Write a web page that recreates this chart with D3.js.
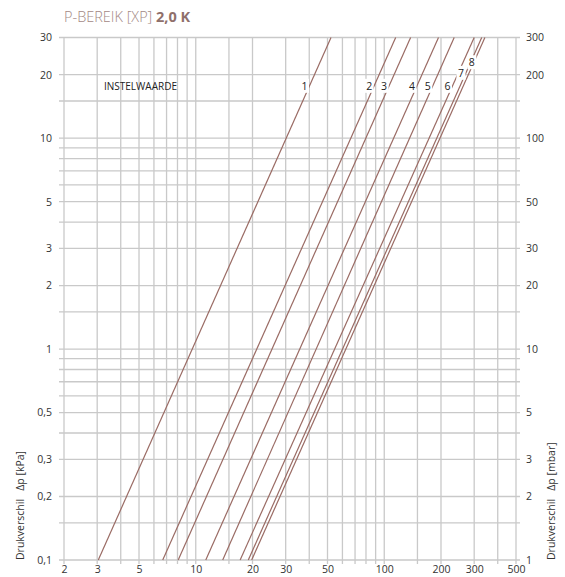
<!DOCTYPE html>
<html><head><meta charset="utf-8">
<script src="https://cdn.jsdelivr.net/npm/d3@7"></script>
<style>
html,body{margin:0;padding:0;background:#fff;}
svg{display:block;font-family:"Open Sans",sans-serif;}
</style></head>
<body>
<svg id="chart" width="565" height="577"></svg>
<script>
// Data
const settings = ["1","2","3","4","5","6","7","8"];
const flowAtMin = [3.04, 6.68, 8.07, 11.3, 13.9, 17.2, 19.0, 19.8];   // flow at 0,1 kPa
const flowAtMax = [52.2, 115, 138, 194, 235, 300, 329, 342];          // flow at 30 kPa
const dpMin = 0.1, dpMax = 30;
const labelDp = [17.7, 17.7, 17.7, 17.7, 17.7, 17.7, 20.4, 22.9];
const xTicks = [2,3,5,10,20,30,50,100,200,300,500];
const xGrid = [2,3,4,5,6,7,8,9,10,15,20,30,40,50,60,70,80,90,100,150,200,300,400,500];
const yTicks = [0.1,0.2,0.3,0.5,1,2,3,5,10,20,30];
const yGrid = [0.1,0.15,0.2,0.3,0.4,0.5,0.6,0.7,0.8,0.9,1,1.5,2,3,4,5,6,7,8,9,10,15,20,30];
const yRightTicks = [1,2,3,5,10,20,30,50,100,200,300];

const svg = d3.select("#chart");
const L = 64, R = 516, T = 37.5, B = 560;
const x = d3.scaleLog().domain([2,500]).range([L,R]);
const y = d3.scaleLog().domain([0.1,30]).range([B,T]);
const yR = d3.scaleLog().domain([1,300]).range([B,T]);
const fmt = d => String(d).replace(".", ",");
const gridColor = "#c9c9c9";

// Grid
svg.append("g").selectAll("line").data(yGrid).join("line")
  .attr("x1", L-5).attr("x2", R+4)
  .attr("y1", d=>y(d)).attr("y2", d=>y(d))
  .attr("stroke", gridColor).attr("stroke-width", 1.3);
svg.append("g").selectAll("line").data(xGrid).join("line")
  .attr("x1", d=>x(d)).attr("x2", d=>x(d))
  .attr("y1", T).attr("y2", B+4)
  .attr("stroke", gridColor).attr("stroke-width", 1.3);

// Axes (labels only)
const axisFont = 10.5, txtColor = "#333";
const gx = svg.append("g").attr("transform", `translate(0,${B})`)
  .call(d3.axisBottom(x).tickValues(xTicks).tickFormat(d=>d).tickSize(0).tickPadding(5.5));
const gl = svg.append("g").attr("transform", `translate(${L-12},0)`)
  .call(d3.axisLeft(y).tickValues(yTicks).tickFormat(fmt).tickSize(0).tickPadding(0));
const gr = svg.append("g").attr("transform", `translate(${R+10},0)`)
  .call(d3.axisRight(yR).tickValues(yRightTicks).tickFormat(d=>d).tickSize(0).tickPadding(0));
[gx,gl,gr].forEach(g=>{
  g.select(".domain").remove();
  g.selectAll("text").attr("font-size", axisFont).attr("fill", txtColor)
    .attr("font-family", "'Open Sans',sans-serif");
});

// Lines
const lineGen = d3.line().x(d=>x(d[0])).y(d=>y(d[1]));
const lineColor = "#9a6b64";
svg.append("g").selectAll("path").data(settings).join("path")
  .attr("d", (s,i)=>lineGen([[flowAtMin[i], dpMin],[flowAtMax[i], dpMax]]))
  .attr("fill","none").attr("stroke", lineColor).attr("stroke-width", 1.2);

// Setting labels with white knockout
const flowAt = (i, dp) => Math.exp(Math.log(flowAtMin[i]) + (Math.log(dp/dpMin)/Math.log(dpMax/dpMin))*Math.log(flowAtMax[i]/flowAtMin[i]));
const lg = svg.append("g");
settings.forEach((s,i)=>{
  const off = i === 7 ? 2 : 5;
  const cx = x(flowAt(i, labelDp[i])) - off, cy = y(labelDp[i]);
  lg.append("rect").attr("x", cx-4.5).attr("y", cy-7).attr("width", 9).attr("height", 14).attr("fill","#fff");
  lg.append("text").attr("x", cx).attr("y", cy).attr("dy","0.35em")
    .attr("text-anchor","middle").attr("font-size", 10.5).attr("fill", "#222").text(s);
});
svg.append("text").attr("x", 104).attr("y", 86).attr("dy","0.35em")
  .attr("font-size", 10).attr("fill","#222").text("INSTELWAARDE");

// Title
const title = svg.append("text").attr("x", 64).attr("y", 22).attr("font-size", 14.5).attr("fill", "#a38884");
title.append("tspan").attr("font-weight", 300).text("P-BEREIK [XP] ");
title.append("tspan").attr("font-weight", 700).attr("fill","#8f706b").text("2,0 K");

// Axis titles
svg.append("text").attr("transform", `translate(24,${B}) rotate(-90)`)
  .attr("font-size", 10.5).attr("fill", txtColor).attr("xml:space","preserve")
  .text("Drukverschil   Δp [kPa]");
svg.append("text").attr("transform", `translate(555,${B}) rotate(-90)`)
  .attr("font-size", 10.5).attr("fill", txtColor).attr("xml:space","preserve")
  .text("Drukverschil   Δp [mbar]");
</script>
</body></html>
